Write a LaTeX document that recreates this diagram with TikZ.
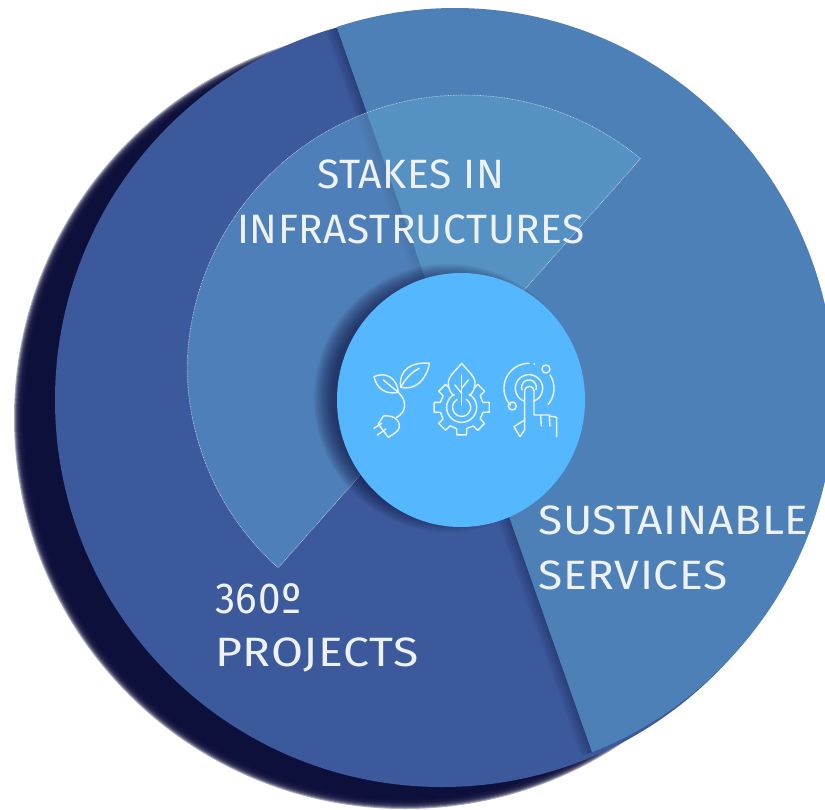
\documentclass[tikz,border=0pt]{standalone}
\usepackage{fontspec}
\setmainfont[LetterSpace=1.5]{Fira Sans}
\usetikzlibrary{shapes.geometric}
\definecolor{navy}{HTML}{0C0E3A}
\definecolor{darkseg}{HTML}{3C5A9B}
\definecolor{lightseg}{HTML}{4D80B6}
\definecolor{wedgecol}{HTML}{5F9FD1}
\definecolor{hubcol}{HTML}{55B8FF}
\definecolor{inkcol}{HTML}{EEF2F7}
\tikzset{
  label text/.style={text=inkcol,font=\fontsize{41}{41}\selectfont,inner sep=0pt,anchor=base west,transform shape},
  icon/.style={draw=inkcol,line width=1.45pt,line cap=round,line join=round},
}
\newcommand\iconarc[5]{\draw[icon] plot[domain=#4:#5,samples=40] ({#1+#3*cos(\x)},{#2-#3*sin(\x)});}
\begin{document}
\begin{tikzpicture}[x=1pt,y=-1pt]
\useasboundingbox (0,0) rectangle (825,809);
\clip (0,0) rectangle (825,809);
% blurred back disc
\foreach \r in {381,382,...,391}{\fill[navy,fill opacity=.35] (405,418) circle[radius=\r pt];}
% dark disc
\fill[darkseg] (442,400) circle[radius=387pt];
% seam shadow on the dark part
\begin{scope}
\clip (442,400) circle[radius=387pt];
\foreach \w in {3,6,...,24}{\draw[navy,opacity=.045,line width=\w pt] (337,28) -- (592,752);}
\end{scope}
% light part
\begin{scope}
\clip (592,752) -- (337,28) -- (337,-20) -- (900,-20) -- (900,830) -- (592,830) -- cycle;
\fill[lightseg] (455,393) ellipse[x radius=380pt,y radius=385pt];
\end{scope}
% wedge
\path[fill=wedgecol,fill opacity=.55,draw=white,draw opacity=.65,line width=.6pt,dash pattern=on .8pt off .8pt]
  plot[domain=50.4:226.5,samples=80] ({464+(277-7*max(\x-180,0)/46.5)*cos(\x)},{372-(277-7*max(\x-180,0)/46.5)*sin(\x)}) -- cycle;
% hub shadow
\foreach \r in {116,117.5,...,134}{\fill[navy,fill opacity=.065] (448,398) circle[radius=\r pt];}
% hub
\node[ellipse,fill=hubcol,minimum width=248pt,minimum height=254pt,inner sep=0pt] (hub) at (461,400) {};
% labels
\node[label text,xscale=.998] (stakes) at (317,188) {STAKES IN};
\node[label text,xscale=.99] (infra) at (237,243) {INFRASTRUCTURES};
\node[label text,xscale=1.08] (sust) at (538,534) {SUSTAINABLE};
\node[label text,xscale=1.083] (serv) at (538,589) {SERVICES};
\node[label text,xscale=.985,yscale=1.06] (three) at (215,613) {360º};
\node[label text,xscale=1.13] (proj) at (215,666) {PROJECTS};
% icons, in zoom coordinates
\begin{scope}[shift={(330,330)},x=.3333pt,y=-.3333pt]
% plant
\draw[icon] (212,172) .. controls (205,115) and (250,95) .. (298,100) .. controls (290,150) and (255,182) .. (212,172);
\draw[icon] (212,172) .. controls (225,150) and (240,128) .. (268,115);
\draw[icon] (132,140) .. controls (165,125) and (200,140) .. (205,187) .. controls (165,195) and (140,175) .. (132,140);
\draw[icon] (160,150) -- (205,187);
\draw[icon] (205,187) .. controls (230,210) and (232,245) .. (200,262);
\draw[icon] (160,258) .. controls (185,255) and (210,265) .. (208,292) .. controls (205,305) and (190,312) .. (175,322) -- (145,282) -- cycle;
\draw[icon] (155,280) -- (132,295);
\draw[icon] (168,297) -- (142,315);
% gear
\foreach \a in {0,45,...,315}{
  \draw[icon] ({395+65*cos(\a-31)},{232-65*sin(\a-31)}) -- ({395+66*cos(\a-13)},{232-66*sin(\a-13)}) -- ({395+84*cos(\a-10)},{232-84*sin(\a-10)}) -- ({395+84*cos(\a+10)},{232-84*sin(\a+10)}) -- ({395+66*cos(\a+13)},{232-66*sin(\a+13)});
}
\fill[hubcol] (395,100) .. controls (375,125) and (352,140) .. (355,165) .. controls (358,195) and (380,205) .. (395,220) .. controls (410,205) and (432,195) .. (435,165) .. controls (438,140) and (415,125) .. (395,100) -- cycle;
\fill[hubcol] (375,130) rectangle (415,170);
\draw[icon] (395,100) .. controls (375,125) and (352,140) .. (355,165) .. controls (358,180) and (362,190) .. (372,197);
\draw[icon] (395,100) .. controls (415,125) and (438,140) .. (435,165) .. controls (432,180) and (428,190) .. (418,197);
\draw[icon] (395,135) -- (395,225);
\draw[icon] (375,165) -- (395,190);
\draw[icon] (415,150) -- (395,175);
\iconarc{395}{232}{45}{-240}{60}
\iconarc{395}{232}{27}{-240}{60}
% target and hand
\iconarc{597}{175}{75}{90}{222}
\iconarc{597}{175}{75}{-40}{32}
\iconarc{597}{175}{41}{-70}{250}
\iconarc{597}{172}{22}{-20}{200}
\draw[icon] (648,117) circle[radius=12];
\draw[icon] (547,228) circle[radius=12];
\fill[inkcol] (613,102) circle[radius=3];
\draw[icon] (584,300) -- (584,182) .. controls (584,165) and (612,165) .. (612,182) -- (612,255) -- (632,255) -- (634,288);
\draw[icon] (634,255) -- (658,255) -- (660,288);
\draw[icon] (660,258) -- (680,262) -- (680,320);
\draw[icon] (584,270) -- (552,290) -- (570,320) -- (584,300);
\end{scope}
\end{tikzpicture}
\end{document}
